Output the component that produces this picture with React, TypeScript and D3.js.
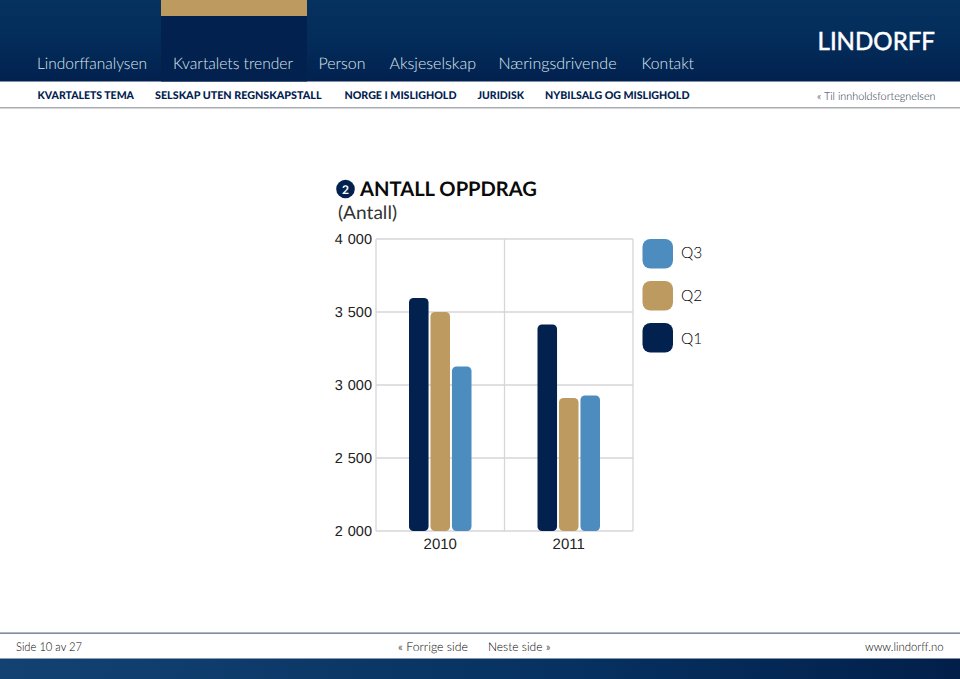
import React from "react";
import * as d3 from "d3";

const years = ["2010", "2011"];
const seriesNames = ["Q1", "Q2", "Q3"];
const q1Values = [3596, 3414];
const q2Values = [3500, 2911];
const q3Values = [3127, 2928];
const yTicks = [2000, 2500, 3000, 3500, 4000];
const legendOrder = ["Q3", "Q2", "Q1"];
const topNav = ["Lindorffanalysen", "Kvartalets trender", "Person", "Aksjeselskap", "Næringsdrivende", "Kontakt"];
const topNavX = [37, 173, 318.5, 389.5, 498.5, 641.5];
const topNavW = [110, 120, 47, 86.5, 118, 52.5];
const subNav = ["KVARTALETS TEMA", "SELSKAP UTEN REGNSKAPSTALL", "NORGE I MISLIGHOLD", "JURIDISK", "NYBILSALG OG MISLIGHOLD"];
const subNavX = [37.5, 155, 344.5, 477.5, 545];
const subNavW = [96.5, 166.5, 112, 46.5, 144.5];

const colors: Record<string, string> = { Q1: "#02214f", Q2: "#bd9a5f", Q3: "#4d8cbf" };
const sans = "Lato, 'Noto Sans', sans-serif";
const arial = "'Liberation Sans', Arial, sans-serif";

const x0 = d3.scaleBand().domain(years).range([376, 633]);
const x1 = d3.scaleBand().domain(seriesNames).range([33, 95.5]).paddingInner(0.09);
const y = d3.scaleLinear().domain([2000, 4000]).range([531, 239]);
const valuesBy: Record<string, number[]> = { Q1: q1Values, Q2: q2Values, Q3: q3Values };
const fmt = (v: number) => d3.format(",")(v).replace(",", " ");

export default function App() {
  return (
    <svg width={960} height={679} textRendering="geometricPrecision" style={{ position: "absolute", left: 0, top: 0, background: "#fff" }}>
      <defs>
        <linearGradient id="hdr" x1="0" x2="0" y1="0" y2="1">
          <stop offset="0" stopColor="#06325f" />
          <stop offset="0.5" stopColor="#032c5a" />
          <stop offset="1" stopColor="#02214f" />
        </linearGradient>
        <linearGradient id="ftr" x1="0" x2="1" y1="0" y2="0">
          <stop offset="0" stopColor="#134272" />
          <stop offset="0.6" stopColor="#063160" />
          <stop offset="1" stopColor="#021f4a" />
        </linearGradient>
      </defs>

      <rect x={0} y={0} width={960} height={81.5} fill="url(#hdr)" />
      <rect x={161} y={0} width={146} height={81.5} fill="#02214f" />
      <rect x={161} y={0} width={146} height={16} fill="#bd9a5f" />
      {topNav.map((t, i) => (
        <text key={t} x={topNavX[i]} y={68.5} fontFamily={sans} fontWeight={300} fontSize={16} textLength={topNavW[i]} lengthAdjust="spacingAndGlyphs" fill="#dfe6ee">{t}</text>
      ))}
      <text x={817.5} y={49.5} fontFamily={sans} fontWeight={400} fontSize={25} stroke="#fff" strokeWidth={0.5} fill="#fff" textLength={117.5} lengthAdjust="spacingAndGlyphs">LINDORFF</text>
      {subNav.map((t, i) => (
        <text key={t} x={subNavX[i]} y={99} fontFamily={sans} fontWeight={900} fontSize={10.6} textLength={subNavW[i]} lengthAdjust="spacingAndGlyphs" fill="#02214f">{t}</text>
      ))}
      <text x={817} y={99.5} fontFamily={sans} fontWeight={300} fontSize={11} textLength={118.5} lengthAdjust="spacingAndGlyphs" fill="#1c2a44">« Til innholdsfortegnelsen</text>
      <rect x={0} y={107} width={960} height={1.5} fill="#a9adb1" />

      <circle cx={345.5} cy={189} r={9.3} fill="#02214f" />
      <text x={345.5} y={193.5} textAnchor="middle" fontFamily={sans} fontWeight={700} fontSize={12} fill="#fff">2</text>
      <text x={360} y={196} fontFamily={sans} fontWeight={700} fontSize={20} textLength={177} lengthAdjust="spacingAndGlyphs" fill="#0a0a0a">ANTALL OPPDRAG</text>
      <text x={338} y={219} fontFamily={sans} fontWeight={400} fontSize={18.5} textLength={59} lengthAdjust="spacingAndGlyphs" fill="#333">(Antall)</text>

      {yTicks.map((t) => (
        <g key={t}>
          <line x1={376} x2={633} y1={y(t)} y2={y(t)} stroke="#d6d6d8" strokeWidth={1.3} />
          <text x={372} y={y(t) + 4.5} textAnchor="end" fontFamily={arial} fontSize={14.5} wordSpacing={1} fill="#222">{fmt(t)}</text>
        </g>
      ))}
      {[376, 504.5, 633].map((gx) => (
        <line key={gx} x1={gx} x2={gx} y1={239} y2={531} stroke="#d6d6d8" strokeWidth={1.3} />
      ))}

      {years.map((yr, i) => (
        <g key={yr}>
          {seriesNames.map((s) => (
            <rect
              key={s}
              x={(x0(yr) as number) + (x1(s) as number)}
              y={y(valuesBy[s][i])}
              width={x1.bandwidth()}
              height={y(2000) - y(valuesBy[s][i])}
              rx={4.5}
              fill={colors[s]}
            />
          ))}
          <text x={(x0(yr) as number) + x0.bandwidth() / 2} y={549} textAnchor="middle" fontFamily={arial} fontSize={15} fill="#222">{yr}</text>
        </g>
      ))}

      {legendOrder.map((s, i) => (
        <g key={s}>
          <rect x={642.5} y={239 + i * 42} width={30.5} height={29.5} rx={8} fill={colors[s]} />
          <text x={681} y={257.5 + i * 43} fontFamily={sans} fontWeight={300} fontSize={15.5} fill="#000">{s}</text>
        </g>
      ))}

      <rect x={0} y={632.5} width={960} height={1.3} fill="#5f7388" />
      <text x={16} y={651} fontFamily={sans} fontWeight={300} fontSize={12.2} textLength={66} lengthAdjust="spacingAndGlyphs" fill="#000">Side 10 av 27</text>
      <text x={398} y={651} fontFamily={sans} fontWeight={300} fontSize={12.2} textLength={70} lengthAdjust="spacingAndGlyphs" fill="#000">« Forrige side</text>
      <text x={488} y={651} fontFamily={sans} fontWeight={300} fontSize={12.2} textLength={62.5} lengthAdjust="spacingAndGlyphs" fill="#000">Neste side »</text>
      <text x={865} y={651} fontFamily={sans} fontWeight={300} fontSize={12.2} textLength={78.5} lengthAdjust="spacingAndGlyphs" fill="#000">www.lindorff.no</text>
      <rect x={0} y={658.5} width={960} height={20.5} fill="url(#ftr)" />
    </svg>
  );
}
